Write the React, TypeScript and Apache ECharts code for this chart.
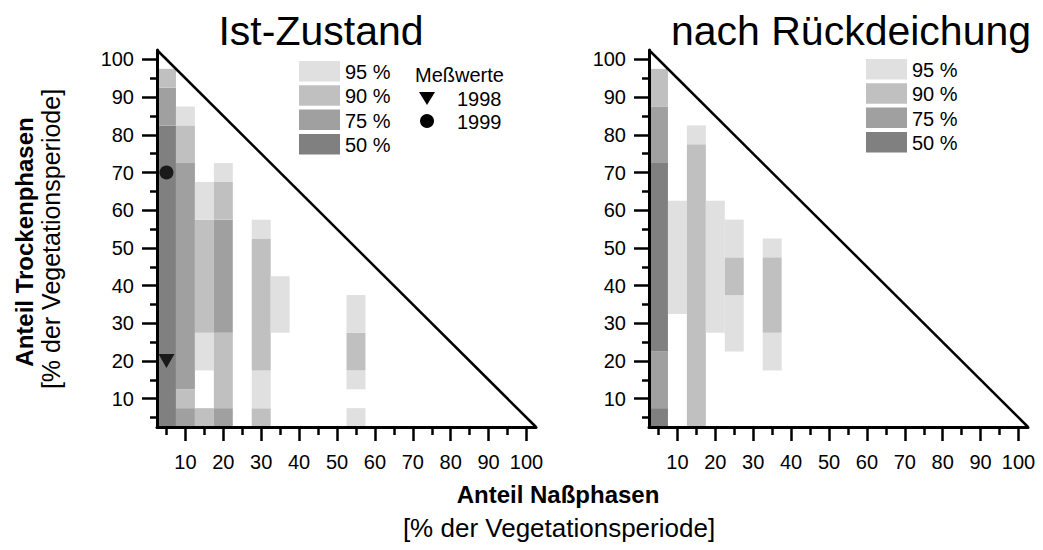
import React, { useEffect, useRef } from "react";
import * as echarts from "echarts";

// ---- data ----
// y cell centres (5 % bins) shared by all columns
const yCells = [5, 10, 15, 20, 25, 30, 35, 40, 45, 50, 55, 60, 65, 70, 75, 80, 85, 90, 95, 100];
// x cell centres of the columns that carry values
const istColumns = [5, 10, 15, 20, 30, 35, 55];
// level per y cell (95/90/75/50 = probability region, 0 = empty)
const ist_x5 = [50, 50, 50, 50, 50, 50, 50, 50, 50, 50, 50, 50, 50, 50, 50, 50, 75, 75, 90, 0];
const ist_x10 = [75, 90, 75, 75, 75, 75, 75, 75, 75, 75, 75, 75, 75, 75, 90, 90, 95, 0, 0, 0];
const ist_x15 = [90, 0, 0, 95, 95, 90, 90, 90, 90, 90, 90, 95, 95, 0, 0, 0, 0, 0, 0, 0];
const ist_x20 = [75, 90, 90, 90, 90, 75, 75, 75, 75, 75, 75, 90, 90, 95, 0, 0, 0, 0, 0, 0];
const ist_x30 = [90, 95, 95, 90, 90, 90, 90, 90, 90, 90, 95, 0, 0, 0, 0, 0, 0, 0, 0, 0];
const ist_x35 = [0, 0, 0, 0, 0, 95, 95, 95, 0, 0, 0, 0, 0, 0, 0, 0, 0, 0, 0, 0];
const ist_x55 = [95, 0, 95, 90, 90, 95, 95, 0, 0, 0, 0, 0, 0, 0, 0, 0, 0, 0, 0, 0];
const istLevels = [ist_x5, ist_x10, ist_x15, ist_x20, ist_x30, ist_x35, ist_x55];

const rueckColumns = [5, 10, 15, 20, 25, 35];
const rueck_x5 = [50, 75, 75, 75, 50, 50, 50, 50, 50, 50, 50, 50, 50, 50, 75, 75, 75, 90, 90, 0];
const rueck_x10 = [0, 0, 0, 0, 0, 0, 95, 95, 95, 95, 95, 95, 0, 0, 0, 0, 0, 0, 0, 0];
const rueck_x15 = [90, 90, 90, 90, 90, 90, 90, 90, 90, 90, 90, 90, 90, 90, 90, 95, 0, 0, 0, 0];
const rueck_x20 = [0, 0, 0, 0, 0, 95, 95, 95, 95, 95, 95, 95, 0, 0, 0, 0, 0, 0, 0, 0];
const rueck_x25 = [0, 0, 0, 0, 95, 95, 95, 90, 90, 95, 95, 0, 0, 0, 0, 0, 0, 0, 0, 0];
const rueck_x35 = [0, 0, 0, 95, 95, 90, 90, 90, 90, 95, 0, 0, 0, 0, 0, 0, 0, 0, 0, 0];
const rueckLevels = [rueck_x5, rueck_x10, rueck_x15, rueck_x20, rueck_x25, rueck_x35];

// measured values (Ist-Zustand)
const mess1998 = [[5, 20]];
const mess1999 = [[5, 70]];

// diagonal boundary x + y = 105
const diagonal = [[2.5, 102.5], [102.5, 2.5]];

const majorTicks = [10, 20, 30, 40, 50, 60, 70, 80, 90, 100];
const minorTicks = [5, 15, 25, 35, 45, 55, 65, 75, 85, 95];
const legendLevels = ["95 %", "90 %", "75 %", "50 %"];
const levelKeys = [95, 90, 75, 50];

const FONT = "'Liberation Sans', Arial, Helvetica, sans-serif";
const levelColor: Record<number, string> = { 95: "#e0e0e0", 90: "#c0c0c0", 75: "#a0a0a0", 50: "#808080" };

// merge consecutive cells of equal level in a column into one run: [x, yFirst, yLast, level]
function buildRuns(cols: number[], levels: number[][]) {
  const out: number[][] = [];
  cols.forEach((x, ci) => {
    const col = levels[ci];
    let i = 0;
    while (i < col.length) {
      const lv = col[i];
      let j = i;
      while (j + 1 < col.length && col[j + 1] === lv) j++;
      if (lv > 0) out.push([x, yCells[i], yCells[j], lv]);
      i = j + 1;
    }
  });
  return out;
}

function axesFor(grid: number) {
  const common = { type: "value", min: 2.5, max: 102.5, gridIndex: grid, z: 10, splitLine: { show: false } };
  const x = [
    {
      ...common,
      position: "bottom",
      axisLine: { show: true, lineStyle: { color: "#000", width: 3 } },
      axisTick: { show: true, customValues: majorTicks, length: 14, lineStyle: { color: "#000", width: 2.5 } },
      axisLabel: { customValues: majorTicks, fontSize: 20, color: "#000", margin: 25, fontFamily: FONT },
    },
    {
      ...common,
      position: "bottom",
      axisLine: { show: false },
      axisTick: { show: true, customValues: minorTicks, length: 8, lineStyle: { color: "#000", width: 2.5 } },
      axisLabel: { show: false },
    },
  ];
  const y = [
    {
      ...common,
      position: "left",
      axisLine: { show: true, lineStyle: { color: "#000", width: 3 } },
      axisTick: { show: true, customValues: majorTicks, length: 15, lineStyle: { color: "#000", width: 2.5 } },
      axisLabel: { customValues: majorTicks, fontSize: 20, color: "#000", margin: 23, fontFamily: FONT },
    },
    {
      ...common,
      position: "left",
      axisLine: { show: false },
      axisTick: { show: true, customValues: minorTicks, length: 7, lineStyle: { color: "#000", width: 2.5 } },
      axisLabel: { show: false },
    },
  ];
  return { x, y };
}

const renderRun = (_params: any, api: any) => {
  const x = api.value(0);
  const y0 = api.value(1);
  const y1 = api.value(2);
  const lv = api.value(3);
  const p1 = api.coord([x - 2.5, y1 + 2.5]);
  const p2 = api.coord([x + 2.5, y0 - 2.5]);
  const c = levelColor[lv];
  return {
    type: "rect",
    shape: { x: p1[0], y: p1[1], width: p2[0] - p1[0], height: p2[1] - p1[1] },
    style: { fill: c },
  };
};

function legendGraphic(x0: number, y0: number, step: number) {
  const els: any[] = [];
  legendLevels.forEach((t, i) => {
    els.push({
      type: "rect",
      shape: { x: x0, y: y0 + i * step, width: 41, height: 20.5 },
      style: { fill: levelColor[levelKeys[i]] },
    });
    els.push({
      type: "text",
      x: x0 + 46,
      y: y0 + i * step + 11,
      style: { text: t, fontSize: 20, fontFamily: FONT, fill: "#000", verticalAlign: "middle", align: "left" },
    });
  });
  return els;
}

export default function App() {
  const ref = useRef<HTMLDivElement>(null);
  useEffect(() => {
    if (!ref.current) return;
    const chart = echarts.init(ref.current, undefined, { renderer: "svg" });
    const a0 = axesFor(0);
    const a1 = axesFor(1);
    const option: any = {
      animation: false,
      backgroundColor: "#fff",
      grid: [
        { left: 157, top: 50, width: 379, height: 377 },
        { left: 649, top: 50, width: 379, height: 377 },
      ],
      xAxis: [...a0.x, ...a1.x],
      yAxis: [...a0.y, ...a1.y],
      series: [
        {
          type: "custom",
          xAxisIndex: 0,
          yAxisIndex: 0,
          renderItem: renderRun,
          data: buildRuns(istColumns, istLevels),
          clip: false,
          z: 2,
        },
        {
          type: "custom",
          xAxisIndex: 2,
          yAxisIndex: 2,
          renderItem: renderRun,
          data: buildRuns(rueckColumns, rueckLevels),
          clip: false,
          z: 2,
        },
        {
          type: "line",
          xAxisIndex: 0,
          yAxisIndex: 0,
          data: diagonal,
          symbol: "none",
          lineStyle: { color: "#000", width: 2.5 },
          z: 5,
        },
        {
          type: "line",
          xAxisIndex: 2,
          yAxisIndex: 2,
          data: diagonal,
          symbol: "none",
          lineStyle: { color: "#000", width: 2.5 },
          z: 5,
        },
        {
          type: "scatter",
          name: "1998",
          xAxisIndex: 0,
          yAxisIndex: 0,
          data: mess1998,
          symbol: "triangle",
          symbolRotate: 180,
          symbolSize: [16, 14],
          itemStyle: { color: "#000" },
          z: 6,
        },
        {
          type: "scatter",
          name: "1999",
          xAxisIndex: 0,
          yAxisIndex: 0,
          data: mess1999,
          symbol: "circle",
          symbolSize: 14,
          itemStyle: { color: "#000" },
          z: 6,
        },
      ],
      graphic: [
        {
          type: "text",
          x: 321,
          y: 31,
          style: { text: "Ist-Zustand", fontSize: 41, fontFamily: FONT, fill: "#000", align: "center", verticalAlign: "middle" },
        },
        {
          type: "text",
          x: 851,
          y: 31,
          style: { text: "nach Rückdeichung", fontSize: 41, fontFamily: FONT, fill: "#000", align: "center", verticalAlign: "middle" },
        },
        {
          type: "text",
          x: 24,
          y: 242,
          rotation: Math.PI / 2,
          style: { text: "Anteil Trockenphasen", fontSize: 24, fontWeight: "bold", fontFamily: FONT, fill: "#000", align: "center", verticalAlign: "middle" },
        },
        {
          type: "text",
          x: 51,
          y: 239,
          rotation: Math.PI / 2,
          style: { text: "[% der Vegetationsperiode]", fontSize: 25, fontFamily: FONT, fill: "#000", align: "center", verticalAlign: "middle" },
        },
        {
          type: "text",
          x: 558,
          y: 494,
          style: { text: "Anteil Naßphasen", fontSize: 24, fontWeight: "bold", fontFamily: FONT, fill: "#000", align: "center", verticalAlign: "middle" },
        },
        {
          type: "text",
          x: 559,
          y: 528,
          style: { text: "[% der Vegetationsperiode]", fontSize: 26, fontFamily: FONT, fill: "#000", align: "center", verticalAlign: "middle" },
        },
        ...legendGraphic(299, 61, 24.3),
        {
          type: "text",
          x: 415,
          y: 75,
          style: { text: "Meßwerte", fontSize: 20, fontFamily: FONT, fill: "#000", align: "left", verticalAlign: "middle" },
        },
        {
          type: "polygon",
          shape: { points: [[419, 92], [435, 92], [427, 105]] },
          style: { fill: "#000" },
        },
        {
          type: "text",
          x: 457,
          y: 99,
          style: { text: "1998", fontSize: 20, fontFamily: FONT, fill: "#000", align: "left", verticalAlign: "middle" },
        },
        {
          type: "circle",
          shape: { cx: 427, cy: 121, r: 7 },
          style: { fill: "#000" },
        },
        {
          type: "text",
          x: 457,
          y: 122,
          style: { text: "1999", fontSize: 20, fontFamily: FONT, fill: "#000", align: "left", verticalAlign: "middle" },
        },
        ...legendGraphic(866, 59, 24.3),
      ],
    };
    chart.setOption(option);
    return () => chart.dispose();
  }, []);
  return (
    <div
      ref={ref}
      style={{ position: "absolute", left: 0, top: 0, width: 1043, height: 550 }}
    />
  );
}
